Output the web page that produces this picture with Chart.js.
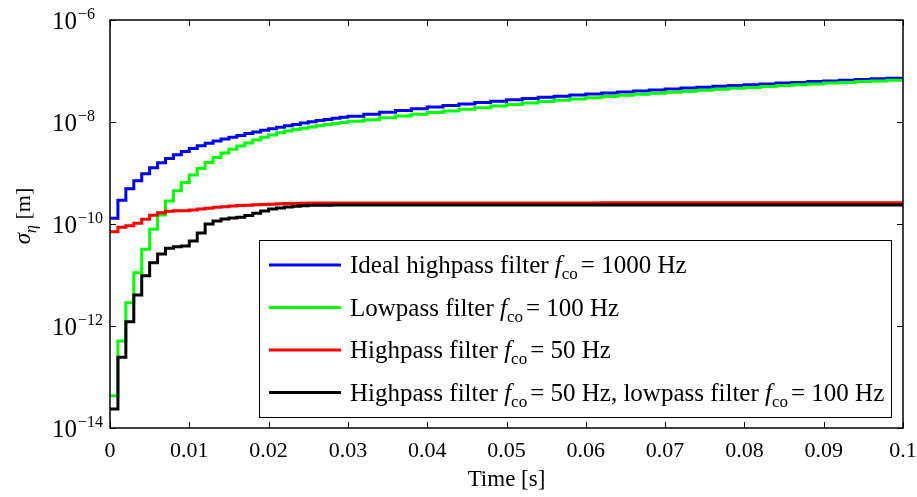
<!DOCTYPE html>
<html>
<head>
<meta charset="utf-8">
<script src="https://cdn.jsdelivr.net/npm/chart.js@4.4.0/dist/chart.umd.min.js"></script>
<style>
  html, body { margin: 0; padding: 0; background: #fff; }
</style>
</head>
<body>
<canvas id="sigmaChart" width="917" height="497"></canvas>
<script>
// time points [s]: 1 ms steps up to 30 ms, then 2 ms steps
const timeS = [
  0, 0.001, 0.002, 0.003, 0.004, 0.005, 0.006, 0.007, 0.008, 0.009,
  0.010, 0.011, 0.012, 0.013, 0.014, 0.015, 0.016, 0.017, 0.018, 0.019,
  0.020, 0.021, 0.022, 0.023, 0.024, 0.025, 0.026, 0.027, 0.028, 0.029, 0.030,
  0.032, 0.034, 0.036, 0.038, 0.040, 0.042, 0.044, 0.046, 0.048, 0.050,
  0.052, 0.054, 0.056, 0.058, 0.060, 0.062, 0.064, 0.066, 0.068, 0.070,
  0.072, 0.074, 0.076, 0.078, 0.080, 0.082, 0.084, 0.086, 0.088, 0.090,
  0.092, 0.094, 0.096, 0.098, 0.100
];

// sigma_eta [m]
const idealHighpass = [
  1.3e-10, 2.92e-10, 4.9e-10, 7.03e-10, 9.68e-10, 1.27e-9, 1.58e-9, 1.92e-9, 2.28e-9, 2.64e-9,
  3.02e-9, 3.43e-9, 3.82e-9, 4.24e-9, 4.64e-9, 5.01e-9, 5.46e-9, 5.93e-9, 6.4e-9, 6.88e-9,
  7.39e-9, 7.91e-9, 8.42e-9, 8.97e-9, 9.51e-9, 1.01e-8, 1.065e-8, 1.12e-8, 1.18e-8, 1.24e-8, 1.3e-8,
  1.42e-8, 1.55e-8, 1.69e-8, 1.82e-8, 1.97e-8, 2.11e-8, 2.26e-8, 2.41e-8, 2.56e-8, 2.72e-8,
  2.88e-8, 3.04e-8, 3.21e-8, 3.37e-8, 3.55e-8, 3.72e-8, 3.89e-8, 4.07e-8, 4.25e-8, 4.44e-8,
  4.62e-8, 4.81e-8, 5.0e-8, 5.2e-8, 5.39e-8, 5.58e-8, 5.79e-8, 5.98e-8, 6.19e-8, 6.4e-8,
  6.61e-8, 6.82e-8, 7.03e-8, 7.24e-8, 7.46e-8
];
const lowpass100 = [
  4.3e-14, 5.08e-13, 2.86e-12, 1.11e-11, 3.19e-11, 7.87e-11, 1.5e-10, 2.83e-10, 4.5e-10, 6.52e-10,
  9.14e-10, 1.23e-9, 1.61e-9, 2.01e-9, 2.47e-9, 2.92e-9, 3.38e-9, 3.88e-9, 4.44e-9, 5.01e-9,
  5.56e-9, 6.17e-9, 6.67e-9, 7.13e-9, 7.55e-9, 8.02e-9, 8.46e-9, 8.89e-9, 9.35e-9, 9.82e-9, 1.03e-8,
  1.11e-8, 1.21e-8, 1.31e-8, 1.42e-8, 1.53e-8, 1.65e-8, 1.78e-8, 1.91e-8, 2.05e-8, 2.2e-8,
  2.35e-8, 2.51e-8, 2.67e-8, 2.83e-8, 2.99e-8, 3.16e-8, 3.33e-8, 3.49e-8, 3.66e-8, 3.84e-8,
  4.02e-8, 4.2e-8, 4.39e-8, 4.58e-8, 4.77e-8, 4.97e-8, 5.17e-8, 5.37e-8, 5.58e-8, 5.79e-8,
  5.98e-8, 6.2e-8, 6.4e-8, 6.62e-8, 6.81e-8
];
const highpass50 = [
  7.06e-11, 8.61e-11, 9.27e-11, 1.03e-10, 1.24e-10, 1.48e-10, 1.67e-10, 1.77e-10, 1.82e-10, 1.82e-10,
  1.88e-10, 1.97e-10, 2.03e-10, 2.12e-10, 2.18e-10, 2.25e-10, 2.3e-10, 2.34e-10, 2.38e-10, 2.42e-10,
  2.45e-10, 2.49e-10, 2.51e-10, 2.53e-10, 2.56e-10, 2.58e-10, 2.58e-10, 2.58e-10, 2.58e-10, 2.58e-10, 2.58e-10,
  2.58e-10, 2.58e-10, 2.58e-10, 2.58e-10, 2.58e-10, 2.59e-10, 2.59e-10, 2.59e-10, 2.59e-10, 2.59e-10,
  2.59e-10, 2.59e-10, 2.59e-10, 2.59e-10, 2.59e-10, 2.6e-10, 2.6e-10, 2.6e-10, 2.6e-10, 2.6e-10,
  2.6e-10, 2.6e-10, 2.6e-10, 2.6e-10, 2.6e-10, 2.6e-10, 2.6e-10, 2.6e-10, 2.6e-10, 2.6e-10,
  2.6e-10, 2.6e-10, 2.6e-10, 2.6e-10, 2.6e-10
];
const highLow = [
  2.36e-14, 2.43e-13, 1.21e-12, 4.05e-12, 9.69e-12, 1.74e-11, 2.58e-11, 3.34e-11, 3.59e-11, 3.71e-11,
  4.65e-11, 6.67e-11, 1.0e-10, 1.15e-10, 1.25e-10, 1.31e-10, 1.35e-10, 1.46e-10, 1.62e-10, 1.8e-10,
  1.97e-10, 2.06e-10, 2.15e-10, 2.22e-10, 2.28e-10, 2.33e-10, 2.34e-10, 2.34e-10, 2.35e-10, 2.35e-10, 2.35e-10,
  2.35e-10, 2.35e-10, 2.36e-10, 2.36e-10, 2.36e-10, 2.36e-10, 2.36e-10, 2.36e-10, 2.36e-10, 2.36e-10,
  2.36e-10, 2.36e-10, 2.36e-10, 2.36e-10, 2.36e-10, 2.36e-10, 2.36e-10, 2.36e-10, 2.36e-10, 2.36e-10,
  2.36e-10, 2.36e-10, 2.36e-10, 2.36e-10, 2.36e-10, 2.36e-10, 2.36e-10, 2.36e-10, 2.36e-10, 2.36e-10,
  2.36e-10, 2.36e-10, 2.36e-10, 2.36e-10, 2.36e-10
];

const xTicks = [0, 0.01, 0.02, 0.03, 0.04, 0.05, 0.06, 0.07, 0.08, 0.09, 0.1];
const xTickLabels = ["0", "0.01", "0.02", "0.03", "0.04", "0.05", "0.06", "0.07", "0.08", "0.09", "0.1"];
const yTickExps = [-6, -8, -10, -12, -14];

const seriesLabels = [
  "Ideal highpass filter f_co = 1000 Hz",
  "Lowpass filter f_co = 100 Hz",
  "Highpass filter f_co = 50 Hz",
  "Highpass filter f_co = 50 Hz, lowpass filter f_co = 100 Hz"
];
// legend text pieces: r = roman, i = italic, s = subscript
const legendParts = [
  [["Ideal highpass filter ", "r"], ["f", "i"], ["co", "s"], ["= 1000 Hz", "r"]],
  [["Lowpass filter ", "r"], ["f", "i"], ["co", "s"], ["= 100 Hz", "r"]],
  [["Highpass filter ", "r"], ["f", "i"], ["co", "s"], ["= 50 Hz", "r"]],
  [["Highpass filter ", "r"], ["f", "i"], ["co", "s"], ["= 50 Hz, lowpass filter ", "r"], ["f", "i"], ["co", "s"], ["= 100 Hz", "r"]]
];
const seriesColors = ["#0000ff", "#00ff00", "#ff0000", "#000000"];

const SERIF = '"Liberation Serif", "Times New Roman", serif';

function toPoints(vals) {
  return vals.map((v, i) => ({ x: timeS[i], y: v }));
}

function drawParts(ctx, x, y, parts, size) {
  parts.forEach(([text, kind]) => {
    let dy = 0;
    if (kind === "i") ctx.font = `italic ${size}px ${SERIF}`;
    else if (kind === "s") { ctx.font = `${Math.round(size * 0.68)}px ${SERIF}`; dy = size * 0.25; }
    else ctx.font = `${size}px ${SERIF}`;
    ctx.fillText(text, x, y + dy);
    x += ctx.measureText(text).width + (kind === "s" ? 3 : 0);
  });
  return x;
}

const decorPlugin = {
  id: "decor",
  afterDraw(chart) {
    const ctx = chart.ctx;
    const a = chart.chartArea;
    const xs = chart.scales.x;
    const ys = chart.scales.y;
    ctx.save();
    ctx.strokeStyle = "#000";
    ctx.fillStyle = "#000";

    // ticks, inward on all four sides
    ctx.lineWidth = 1;
    const tl = 6;
    ctx.beginPath();
    xTicks.forEach((v) => {
      const px = Math.round(xs.getPixelForValue(v)) + 0.5;
      ctx.moveTo(px, a.bottom); ctx.lineTo(px, a.bottom - tl);
      ctx.moveTo(px, a.top); ctx.lineTo(px, a.top + tl);
    });
    yTickExps.forEach((e) => {
      const py = Math.round(ys.getPixelForValue(Math.pow(10, e))) + 0.5;
      ctx.moveTo(a.left, py); ctx.lineTo(a.left + tl, py);
      ctx.moveTo(a.right, py); ctx.lineTo(a.right - tl, py);
    });
    ctx.stroke();

    // frame
    ctx.lineWidth = 1.5;
    ctx.strokeRect(a.left, a.top, a.right - a.left, a.bottom - a.top);

    // x tick labels
    ctx.font = `22px ${SERIF}`;
    ctx.textAlign = "center";
    ctx.textBaseline = "alphabetic";
    xTicks.forEach((v, i) => {
      ctx.fillText(xTickLabels[i], xs.getPixelForValue(v), a.bottom + 29);
    });

    // y tick labels 10^e
    ctx.textAlign = "left";
    yTickExps.forEach((e) => {
      const py = ys.getPixelForValue(Math.pow(10, e));
      ctx.font = `25px ${SERIF}`;
      ctx.fillText("10", 52, py + 9);
      const w = ctx.measureText("10").width;
      ctx.font = `16px ${SERIF}`;
      ctx.fillText("\u2212" + Math.abs(e), 52 + w + 1, py - 1);
    });

    // axis titles
    ctx.font = `23px ${SERIF}`;
    ctx.textAlign = "center";
    ctx.fillText("Time [s]", (a.left + a.right) / 2, 486);

    ctx.save();
    ctx.translate(30, 216);
    ctx.rotate(-Math.PI / 2);
    ctx.textAlign = "left";
    ctx.font = `italic 23px ${SERIF}`;
    const w1 = ctx.measureText("\u03c3").width;
    ctx.font = `italic 16px ${SERIF}`;
    const w2 = ctx.measureText("\u03b7").width;
    ctx.font = `22px ${SERIF}`;
    const w3 = ctx.measureText(" [m]").width;
    let x0 = -(w1 + w2 + w3) / 2;
    ctx.font = `italic 23px ${SERIF}`;
    ctx.fillText("\u03c3", x0, 0);
    ctx.font = `italic 16px ${SERIF}`;
    ctx.fillText("\u03b7", x0 + w1, 6);
    ctx.font = `22px ${SERIF}`;
    ctx.fillText(" [m]", x0 + w1 + w2, 0);
    ctx.restore();

    // legend box
    const lx = 259, ly = 240, lw = 632, lh = 177;
    ctx.fillStyle = "#fff";
    ctx.fillRect(lx, ly, lw, lh);
    ctx.lineWidth = 1;
    ctx.strokeStyle = "#000";
    ctx.strokeRect(lx + 0.5, ly + 0.5, lw, lh);
    ctx.textAlign = "left";
    const rowY = [265, 307.5, 350, 392.5];
    chart.data.datasets.forEach((ds, i) => {
      const y = rowY[i];
      ctx.strokeStyle = ds.borderColor;
      ctx.lineWidth = 3;
      ctx.beginPath();
      ctx.moveTo(269, y); ctx.lineTo(341, y);
      ctx.stroke();
      ctx.fillStyle = "#000";
      drawParts(ctx, 350, y + 8, legendParts[i], 25);
    });
    ctx.restore();
  }
};

const allSeries = [idealHighpass, lowpass100, highpass50, highLow];

new Chart(document.getElementById("sigmaChart"), {
  type: "line",
  data: {
    datasets: allSeries.map((vals, i) => ({
      label: seriesLabels[i],
      data: toPoints(vals),
      borderColor: seriesColors[i],
      backgroundColor: seriesColors[i],
      borderWidth: 3,
      stepped: "before",
      pointRadius: 0,
      fill: false,
      order: 4 - i,
    })),
  },
  options: {
    responsive: false,
    animation: false,
    events: [],
    layout: { padding: { left: 110, right: 14, top: 20, bottom: 69 } },
    plugins: { legend: { display: false }, tooltip: { enabled: false } },
    scales: {
      x: { type: "linear", min: 0, max: 0.1, display: false },
      y: { type: "logarithmic", min: 1e-14, max: 1e-6, display: false },
    },
  },
  plugins: [decorPlugin],
});
</script>
</body>
</html>
